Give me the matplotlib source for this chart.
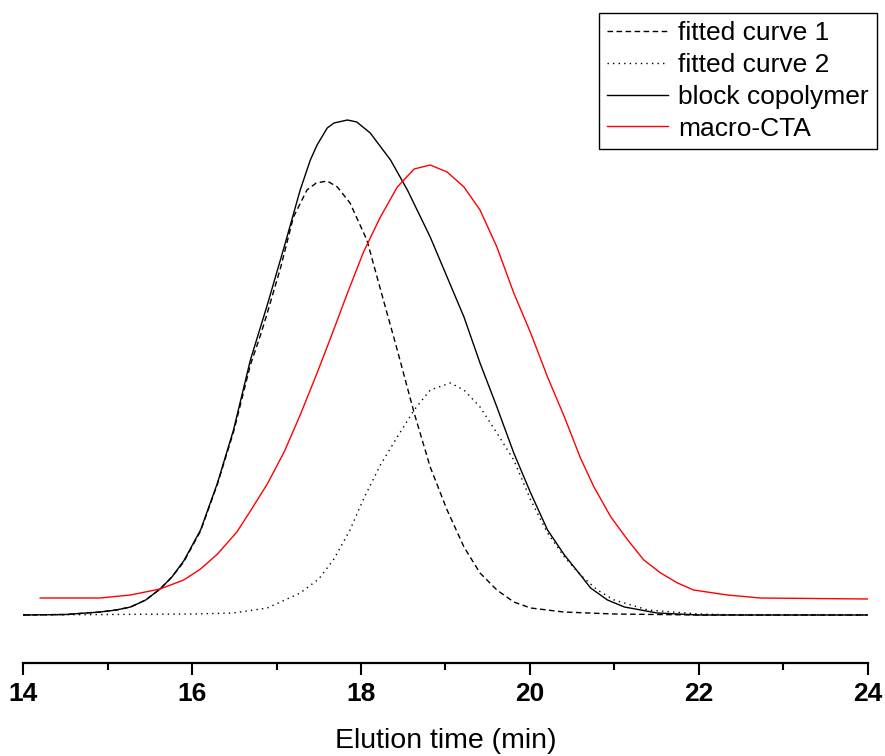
import numpy as np
import matplotlib
matplotlib.use('Agg')
import matplotlib.pyplot as plt
from matplotlib.ticker import MultipleLocator

# signal heights (arbitrary units)
block_t = [14.0, 14.5, 14.91, 15.1, 15.27, 15.45, 15.62, 15.76, 15.9, 16.1, 16.3, 16.49, 16.69,
           16.81, 16.89, 17.09, 17.28, 17.4, 17.48, 17.6, 17.68, 17.84, 17.95, 18.11, 18.35,
           18.55, 18.82, 19.02, 19.22, 19.41, 19.61, 19.81, 20.01, 20.21, 20.41, 20.6, 20.72,
           20.92, 21.12, 21.51, 22.0, 24.0]
block_y = [0, 0.5, 3, 5, 8, 15, 26, 38, 54, 85, 132, 185, 255,
           288, 310, 368, 425, 455, 470, 487, 492, 495, 493, 482, 455,
           425, 378, 338, 298, 252, 208, 162, 122, 85, 60, 40, 27,
           15, 8, 2, 0, 0]

fit1_t = [14.0, 14.5, 14.91, 15.1, 15.27, 15.45, 15.62, 15.76, 15.9, 16.1, 16.3, 16.49, 16.69,
          16.81, 16.89, 17.05, 17.2, 17.36, 17.47, 17.6, 17.72, 17.87, 18.07, 18.2, 18.43,
          18.63, 18.82, 19.02, 19.22, 19.41, 19.61, 19.81, 20.01, 20.4, 21.0, 22.0, 24.0]
fit1_y = [0, 0.5, 3, 5, 8, 15, 26, 38, 53, 84, 131, 183, 250,
          280, 302, 348, 398, 425, 432, 434, 428, 412, 375, 335, 265,
          202, 148, 105, 68, 42, 25, 13, 7, 3, 1, 0, 0]

fit2_t = [14.0, 16.0, 16.49, 16.89, 17.28, 17.5, 17.68, 17.87, 18.03, 18.23, 18.43, 18.63,
          18.82, 19.06, 19.22, 19.41, 19.61, 19.81, 20.01, 20.21, 20.41, 20.6, 20.8, 21.0,
          21.4, 22.0, 22.5, 24.0]
fit2_y = [0, 1, 2, 7, 22, 36, 56, 85, 116, 150, 178, 205,
          225, 232, 225, 208, 182, 155, 115, 82, 58, 40, 25, 15,
          5, 1, 0, 0]

cta_t = [14.2, 14.91, 15.27, 15.62, 15.9, 16.1, 16.3, 16.53, 16.69, 16.89, 17.09, 17.28,
         17.48, 17.64, 17.84, 18.03, 18.23, 18.43, 18.63, 18.82, 19.02, 19.22, 19.41,
         19.61, 19.81, 20.01, 20.21, 20.41, 20.6, 20.76, 20.96, 21.16, 21.35, 21.55,
         21.75, 21.94, 22.34, 22.73, 24.0]
cta_y = [17, 17, 20, 26, 35, 46, 61, 83, 104, 131, 163, 200,
         242, 277, 322, 363, 398, 428, 446, 450, 443, 428, 405,
         368, 322, 282, 238, 198, 157, 128, 98, 75, 55, 42,
         32, 25, 20, 17, 16]

plt.rcParams['font.family'] = ['Liberation Sans', 'DejaVu Sans']

fig = plt.figure(figsize=(8.85, 7.56), dpi=100)
ax = fig.add_axes([23.3 / 885, 1 - 663 / 756, (867.5 - 23.3) / 885, (663 - 10) / 756])

ax.plot(fit1_t, fit1_y, color='black', lw=1.0, dashes=(4, 2.5), label='fitted curve 1')
ax.plot(fit2_t, fit2_y, color='black', lw=1.0, dashes=(1, 3), label='fitted curve 2')
ax.plot(block_t, block_y, color='black', lw=1.0, label='block copolymer')
ax.plot(cta_t, cta_y, color='red', lw=1.0, label='macro-CTA')

ax.set_xlim(14, 24)
ax.set_ylim(-48, 605)
for s in ['top', 'right', 'left']:
    ax.spines[s].set_visible(False)
ax.spines['bottom'].set_linewidth(1.6)
ax.set_yticks([])
ax.xaxis.set_major_locator(MultipleLocator(2))
ax.xaxis.set_minor_locator(MultipleLocator(1))
ax.tick_params(axis='x', which='major', length=8.6, width=1.5, pad=5)
ax.tick_params(axis='x', which='minor', length=5, width=1.5)
for lab in ax.get_xticklabels():
    lab.set_fontweight('bold')
    lab.set_fontsize(19)
ax.set_xlabel('Elution time (min)', fontsize=20.5, labelpad=16)

leg = ax.legend(loc='upper right', bbox_to_anchor=(877 / 885, 1 - 13 / 756),
                bbox_transform=fig.transFigure, fontsize=19, fancybox=False,
                edgecolor='black', framealpha=1, handlelength=2.3,
                handletextpad=0.4, labelspacing=0.3, borderpad=0.3,
                borderaxespad=0)
leg.get_frame().set_linewidth(1.0)

fig.savefig('out.png', dpi=100)
